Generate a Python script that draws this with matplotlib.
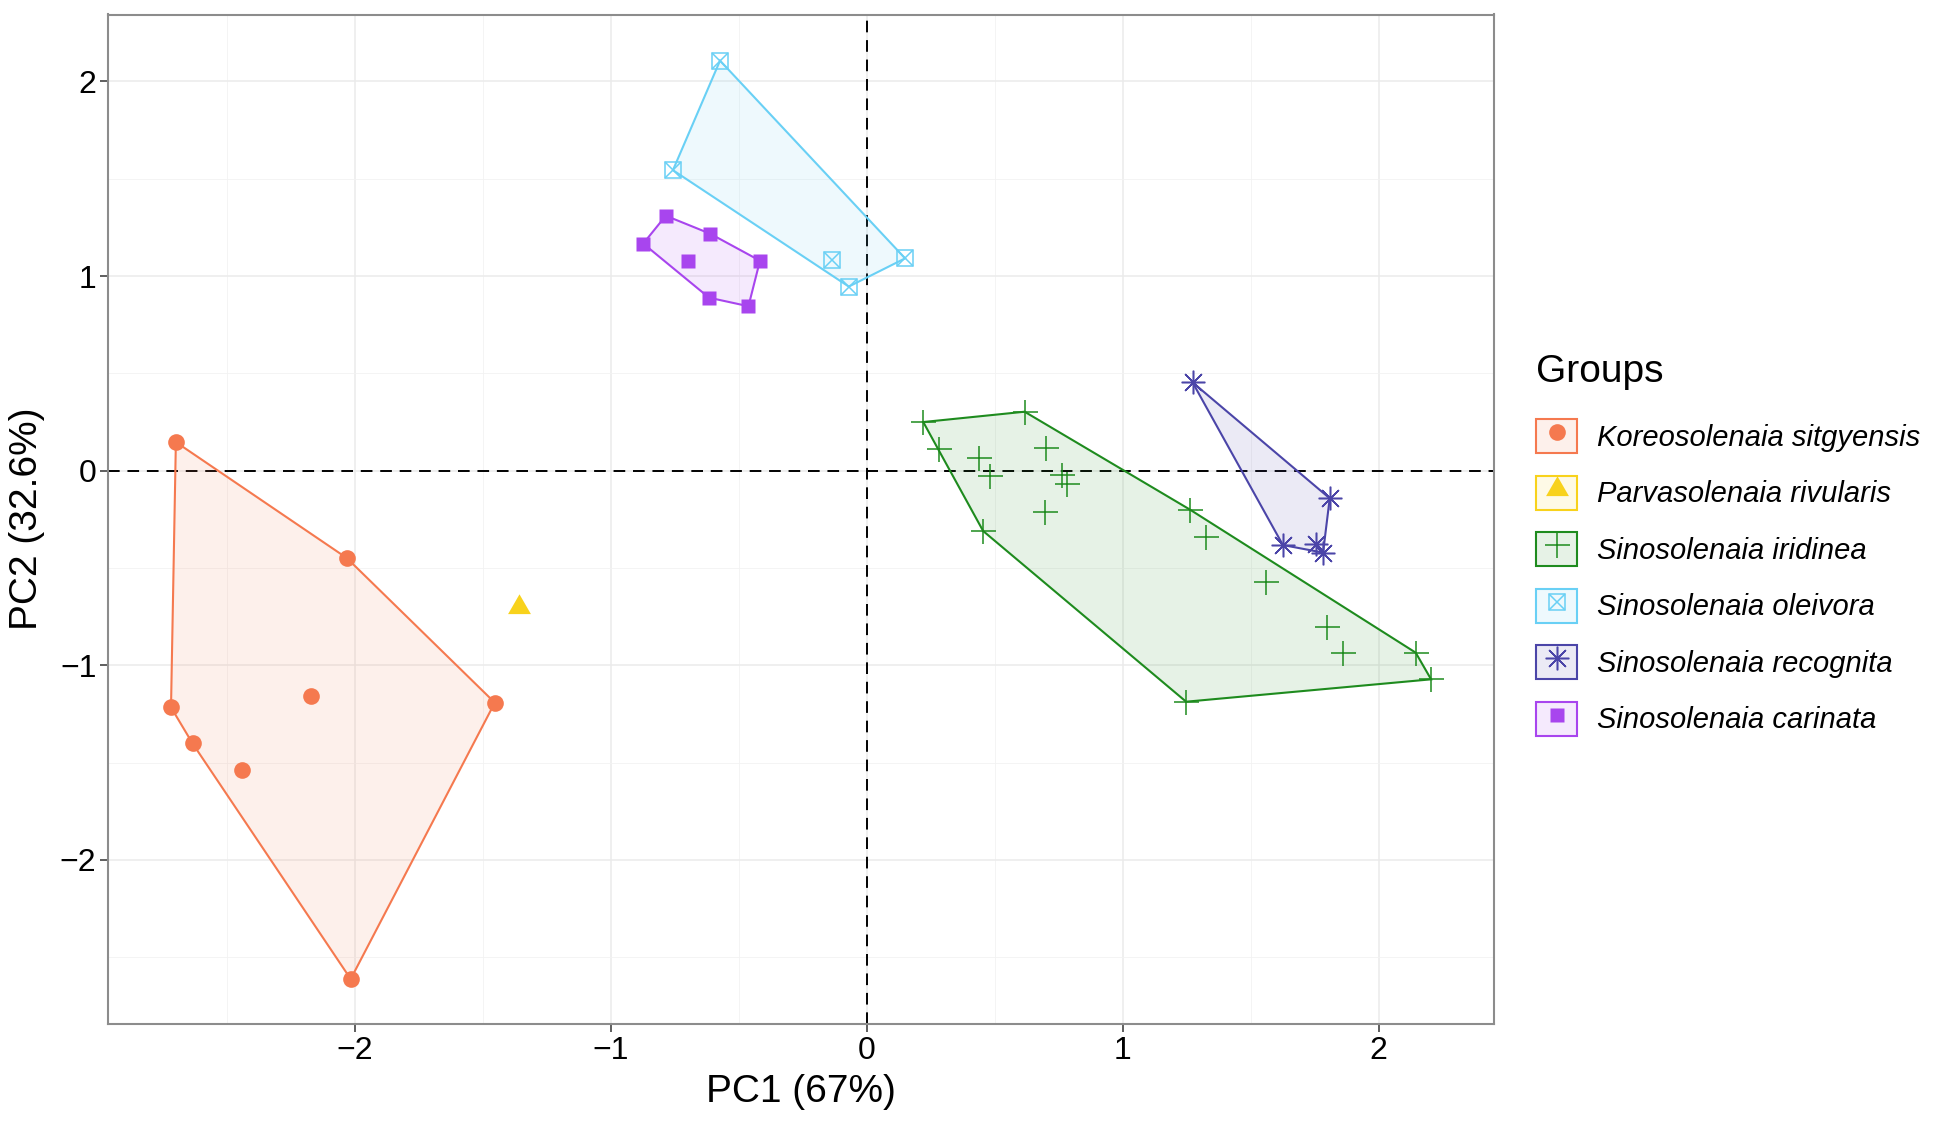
import numpy as np
import matplotlib
matplotlib.use("Agg")
import matplotlib.pyplot as plt
from matplotlib.lines import Line2D
from matplotlib.patches import Patch, Polygon
from matplotlib.path import Path
from matplotlib.ticker import MultipleLocator
from matplotlib.legend_handler import HandlerTuple

plt.rcParams['font.family'] = ['Liberation Sans', 'DejaVu Sans']

# ---------------- data ----------------
groups = ["Koreosolenaia sitgyensis", "Parvasolenaia rivularis", "Sinosolenaia iridinea",
          "Sinosolenaia oleivora", "Sinosolenaia recognita", "Sinosolenaia carinata"]

kor_x = [-2.699, -2.031, -2.718, -2.172, -2.634, -2.439, -1.453, -2.016]
kor_y = [0.147, -0.449, -1.216, -1.157, -1.401, -1.539, -1.192, -2.612]

par_x = [-1.359]
par_y = [-0.700]

iri_x = [0.221, 0.617, 0.284, 0.437, 0.481, 0.701, 0.764, 0.784, 0.698, 0.455,
         1.263, 1.325, 1.562, 1.798, 1.861, 2.145, 2.205, 1.248]
iri_y = [0.250, 0.303, 0.110, 0.064, -0.027, 0.115, -0.022, -0.070, -0.211, -0.310,
         -0.200, -0.339, -0.570, -0.802, -0.939, -0.935, -1.072, -1.187]

ole_x = [-0.573, -0.757, -0.134, -0.070, 0.150]
ole_y = [2.107, 1.544, 1.084, 0.946, 1.091]

rec_x = [1.273, 1.809, 1.626, 1.756, 1.783]
rec_y = [0.454, -0.142, -0.382, -0.378, -0.421]

car_x = [-0.785, -0.873, -0.612, -0.699, -0.417, -0.616, -0.462]
car_y = [1.310, 1.167, 1.218, 1.076, 1.079, 0.889, 0.845]

xs = [kor_x, par_x, iri_x, ole_x, rec_x, car_x]
ys = [kor_y, par_y, iri_y, ole_y, rec_y, car_y]

colors = ["#F5794F", "#F8D21C", "#1E8B1E", "#69D0F5", "#4B45A8", "#A845EE"]

x_label = "PC1 (67%)"
y_label = "PC2 (32.6%)"
legend_title = "Groups"

# ---------------- helpers ----------------
def convex_hull(px, py):
    pts = sorted(set(zip(px, py)))
    if len(pts) < 3:
        return pts
    def cross(o, a, b):
        return (a[0]-o[0])*(b[1]-o[1]) - (a[1]-o[1])*(b[0]-o[0])
    lower = []
    for p in pts:
        while len(lower) >= 2 and cross(lower[-2], lower[-1], p) <= 0:
            lower.pop()
        lower.append(p)
    upper = []
    for p in reversed(pts):
        while len(upper) >= 2 and cross(upper[-2], upper[-1], p) <= 0:
            upper.pop()
        upper.append(p)
    return lower[:-1] + upper[:-1]

tri_path = Path([(0, 0.577), (-0.5, -0.289), (0.5, -0.289), (0, 0.577)],
                [Path.MOVETO, Path.LINETO, Path.LINETO, Path.CLOSEPOLY])

def marker_styles(i):
    c = colors[i]
    if i == 0:
        return [dict(marker='o', ms=12, mfc=c, mec='none')]
    if i == 1:
        return [dict(marker=tri_path, ms=19, mfc=c, mec='none')]
    if i == 2:
        return [dict(marker='+', ms=18, mec=c, mew=1.1)]
    if i == 3:
        return [dict(marker='s', ms=12, mfc='none', mec=c, mew=1.1),
                dict(marker='x', ms=12, mec=c, mew=1.1)]
    if i == 4:
        return [dict(marker=(8, 2, 0), ms=17, mec=c, mew=1.1)]
    return [dict(marker='s', ms=10.5, mfc=c, mec='none')]

# ---------------- figure ----------------
W, H = 1948, 1125
fig = plt.figure(figsize=(W/100, H/100), dpi=100)
ax = fig.add_axes([108.3/W, 1 - 1024/H, (1494.3-108.3)/W, (1024-14.5)/H])

ax.set_xlim(-2.963, 2.452)
ax.set_ylim(-2.843, 2.344)

ax.xaxis.set_major_locator(MultipleLocator(1))
ax.yaxis.set_major_locator(MultipleLocator(1))
ax.xaxis.set_minor_locator(MultipleLocator(0.5))
ax.yaxis.set_minor_locator(MultipleLocator(0.5))
ax.grid(which='major', color='#EBEBEB', lw=1.1, zorder=0)
ax.grid(which='minor', color='#F2F2F2', lw=0.6, zorder=0)
ax.set_axisbelow(True)
ax.tick_params(which='minor', length=0)
ax.tick_params(which='major', length=5.5, width=1.1, color='#333333',
               labelsize=23, labelcolor='black', pad=3)

for s in ax.spines.values():
    s.set_color('#8C8C8C')
    s.set_linewidth(1.5)

ax.axhline(0, color='black', lw=1.4, dashes=(6, 4), zorder=1.5)
ax.axvline(0, color='black', lw=1.4, dashes=(6, 4), zorder=1.5)

for i in range(len(groups)):
    hull = convex_hull(xs[i], ys[i])
    if len(hull) >= 3:
        ax.add_patch(Polygon(hull, closed=True, facecolor=colors[i], alpha=0.11,
                             edgecolor='none', zorder=2))
        ax.add_patch(Polygon(hull, closed=True, facecolor='none', edgecolor=colors[i],
                             lw=1.5, zorder=2.5))
    for st in marker_styles(i):
        ax.plot(xs[i], ys[i], ls='none', zorder=3, **st)

ax.set_xlabel(x_label, fontsize=28, labelpad=6)
ax.set_ylabel(y_label, fontsize=28, labelpad=11)

# legend
handles = []
for i in range(len(groups)):
    c = colors[i]
    box = Patch(facecolor=matplotlib.colors.to_rgba(c, 0.11), edgecolor=c, lw=1.5)
    ms = [Line2D([], [], ls='none', **st) for st in marker_styles(i)]
    handles.append(tuple([box] + ms))

fig.text(1536/W, 1 - 372/H, legend_title, fontsize=28, ha='left', va='center')

leg = fig.legend(handles, groups, loc='upper left',
                 bbox_to_anchor=(1536/W, 1 - 419/H), bbox_transform=fig.transFigure,
                 frameon=False, fontsize=21, handlelength=1.42, handleheight=1.42,
                 labelspacing=0.77, handletextpad=0.68, borderpad=0, borderaxespad=0,
                 alignment='left',
                 handler_map={tuple: HandlerTuple(ndivide=1, pad=0)})
for t in leg.get_texts():
    t.set_fontstyle('italic')

fig.savefig('out.png', dpi=100)
